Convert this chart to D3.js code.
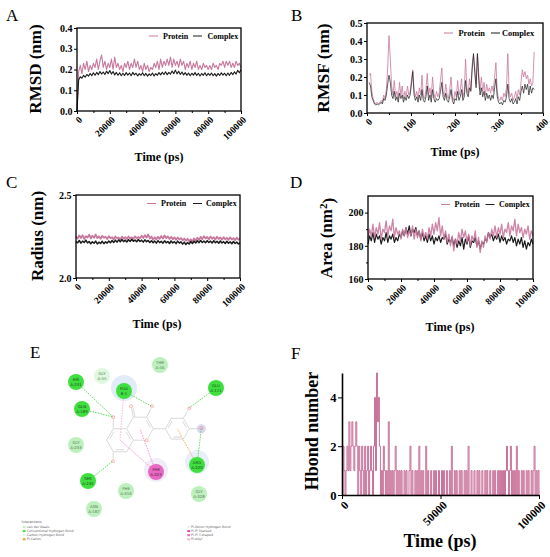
<!DOCTYPE html>
<html lang="en">
<head>
<meta charset="UTF-8">
<title>MD simulation analysis</title>
<script src="https://cdn.jsdelivr.net/npm/d3@7"></script>
<style>
  body { margin: 0; background: #fff; }
  svg { font-family: "Liberation Serif", "Times New Roman", serif; }
</style>
</head>
<body>
<div id="chart"></div>
<script>
// ---- data ----
const simTime = d3.range(0, 100001, 1000);      // ps, A / C / D
const residues = d3.range(5, 381, 3);            // residue number, B
const hbTime = d3.range(0, 100001, 500);         // ps, F

const rmsdProtein = [0,
  0.19,0.22,0.18,0.23,0.20,0.24,0.19,0.22,0.20,0.23,
  0.21,0.25,0.20,0.24,0.27,0.21,0.24,0.20,0.23,0.21,
  0.25,0.20,0.26,0.21,0.23,0.20,0.22,0.19,0.23,0.21,
  0.24,0.20,0.23,0.21,0.25,0.21,0.24,0.20,0.22,0.19,
  0.23,0.20,0.22,0.19,0.21,0.20,0.23,0.21,0.24,0.20,
  0.25,0.21,0.24,0.22,0.25,0.22,0.26,0.21,0.25,0.22,
  0.24,0.21,0.25,0.22,0.24,0.20,0.23,0.21,0.24,0.20,
  0.23,0.21,0.24,0.20,0.22,0.20,0.23,0.21,0.22,0.20,
  0.22,0.20,0.23,0.21,0.22,0.20,0.23,0.22,0.24,0.21,
  0.24,0.22,0.24,0.21,0.23,0.21,0.24,0.22,0.23,0.21];
const rmsdComplex = [0,
  0.150,0.165,0.158,0.172,0.163,0.176,0.168,0.181,0.170,0.184,
  0.172,0.186,0.175,0.190,0.178,0.188,0.176,0.192,0.180,0.195,
  0.178,0.190,0.174,0.186,0.172,0.184,0.170,0.182,0.171,0.185,
  0.173,0.183,0.170,0.186,0.174,0.182,0.169,0.180,0.172,0.184,
  0.170,0.181,0.168,0.179,0.171,0.183,0.169,0.180,0.172,0.185,
  0.174,0.187,0.176,0.189,0.175,0.186,0.178,0.193,0.180,0.197,
  0.179,0.191,0.176,0.188,0.174,0.185,0.172,0.183,0.170,0.182,
  0.173,0.185,0.171,0.182,0.169,0.181,0.172,0.184,0.170,0.181,
  0.172,0.183,0.170,0.180,0.168,0.181,0.171,0.184,0.173,0.182,
  0.170,0.183,0.172,0.186,0.175,0.189,0.178,0.196,0.184,0.200];

const rmsfProtein = [
  0.21,0.22,0.12,0.08,0.06,0.05,0.06,0.05,0.06,0.07,
  0.06,0.10,0.08,0.13,0.25,0.43,0.30,0.15,0.10,0.18,
  0.09,0.12,0.08,0.17,0.10,0.15,0.08,0.12,0.09,0.15,
  0.10,0.12,0.18,0.24,0.13,0.09,0.12,0.08,0.14,0.10,
  0.21,0.09,0.08,0.13,0.22,0.10,0.14,0.09,0.20,0.11,
  0.08,0.12,0.09,0.11,0.18,0.25,0.12,0.09,0.16,0.10,
  0.08,0.13,0.20,0.09,0.07,0.12,0.09,0.18,0.10,0.13,
  0.19,0.09,0.12,0.30,0.14,0.11,0.19,0.13,0.27,0.32,
  0.25,0.16,0.33,0.22,0.13,0.20,0.12,0.17,0.10,0.16,
  0.12,0.14,0.11,0.15,0.12,0.20,0.28,0.12,0.08,0.07,
  0.09,0.07,0.11,0.09,0.14,0.33,0.12,0.09,0.11,0.07,
  0.09,0.12,0.08,0.13,0.10,0.17,0.24,0.20,0.23,0.19,
  0.21,0.16,0.19,0.15,0.17,0.34];
const rmsfComplex = [
  0.17,0.15,0.09,0.07,0.05,0.045,0.05,0.045,0.05,0.06,
  0.05,0.08,0.07,0.10,0.16,0.21,0.17,0.10,0.08,0.12,
  0.07,0.09,0.06,0.11,0.08,0.10,0.06,0.09,0.07,0.10,
  0.08,0.10,0.16,0.23,0.10,0.07,0.09,0.06,0.10,0.07,
  0.13,0.07,0.06,0.09,0.15,0.07,0.10,0.06,0.13,0.08,
  0.06,0.08,0.07,0.08,0.12,0.17,0.09,0.07,0.11,0.07,
  0.06,0.09,0.13,0.07,0.05,0.08,0.07,0.12,0.07,0.09,
  0.13,0.07,0.09,0.18,0.11,0.09,0.14,0.12,0.24,0.33,
  0.22,0.14,0.33,0.18,0.10,0.14,0.09,0.12,0.07,0.11,
  0.08,0.10,0.07,0.10,0.08,0.14,0.19,0.09,0.06,0.05,
  0.06,0.045,0.07,0.06,0.09,0.16,0.08,0.06,0.08,0.05,
  0.06,0.08,0.05,0.09,0.07,0.12,0.15,0.11,0.16,0.13,
  0.16,0.10,0.15,0.11,0.14,0.13];

const gyrProtein = [
  2.250,2.238,2.256,2.241,2.258,2.236,2.252,2.244,2.260,2.238,
  2.255,2.242,2.262,2.240,2.251,2.236,2.254,2.243,2.249,2.235,
  2.252,2.240,2.246,2.233,2.250,2.238,2.244,2.232,2.249,2.237,
  2.246,2.235,2.250,2.238,2.245,2.236,2.251,2.239,2.247,2.240,
  2.255,2.241,2.258,2.243,2.262,2.238,2.250,2.230,2.245,2.233,
  2.248,2.236,2.253,2.238,2.256,2.240,2.250,2.235,2.248,2.233,
  2.245,2.230,2.244,2.232,2.240,2.227,2.238,2.225,2.236,2.222,
  2.233,2.220,2.238,2.226,2.242,2.230,2.248,2.234,2.252,2.238,
  2.247,2.233,2.250,2.236,2.246,2.232,2.249,2.235,2.244,2.231,
  2.246,2.233,2.242,2.230,2.245,2.232,2.240,2.228,2.243,2.231,2.236];
const gyrComplex = [
  2.220,2.212,2.226,2.210,2.222,2.214,2.228,2.211,2.220,2.206,
  2.218,2.209,2.222,2.205,2.216,2.208,2.221,2.207,2.218,2.210,
  2.223,2.212,2.226,2.214,2.228,2.216,2.230,2.218,2.232,2.219,
  2.228,2.217,2.231,2.220,2.233,2.221,2.229,2.218,2.232,2.220,
  2.228,2.216,2.230,2.219,2.226,2.214,2.224,2.212,2.222,2.210,
  2.225,2.213,2.221,2.210,2.224,2.212,2.220,2.208,2.223,2.211,
  2.219,2.207,2.222,2.210,2.218,2.204,2.216,2.202,2.214,2.205,
  2.220,2.208,2.222,2.211,2.224,2.213,2.226,2.214,2.223,2.212,
  2.225,2.214,2.222,2.211,2.224,2.212,2.221,2.209,2.223,2.211,
  2.219,2.208,2.221,2.209,2.218,2.206,2.220,2.208,2.217,2.205,2.212];

const sasaProtein = [
  184,190,186,193,185,191,187,194,184,190,
  188,195,186,192,189,196,185,191,187,189,
  184,190,186,191,185,189,186,192,184,190,
  185,189,183,190,185,188,184,191,186,193,
  187,194,189,197,186,192,184,189,182,187,
  180,186,177,184,181,188,183,190,185,189,
  182,187,180,186,183,189,179,185,176,183,
  179,186,182,188,184,190,186,192,185,191,
  187,193,185,190,188,194,186,192,189,196,
  186,193,188,191,185,190,187,192,184,189,186];
const sasaComplex = [
  181,186,183,188,182,187,184,186,181,185,
  183,188,182,186,184,187,182,185,183,187,
  185,189,186,191,187,192,186,190,188,191,
  186,189,184,188,183,186,182,187,183,186,
  181,185,183,186,182,185,184,187,181,184,
  182,185,180,184,179,183,180,185,178,184,
  181,186,179,183,182,185,180,183,178,182,
  181,184,183,188,185,187,183,186,184,187,
  182,186,183,185,181,184,183,186,182,185,
  180,184,181,185,179,183,178,182,180,184,181];

const hbondCount = [
  0,2,1,0,1,2,1,
  3,1,2,3,2,1,2,3,2,
  0,2,1,
  0,2,1,0,2,0,1,2,0,1,2,1,0,
  2,4,1,5,3,4,2,
  0,1,0,2,1,0,1,0,3,
  0,1,0,1,0,1,2,0,1,0,1,0,
  1,0,0,1,0,1,0,0,1,2,
  0,1,0,0,1,0,1,0,2,0,
  1,0,1,0,0,2,0,1,0,0,
  1,0,0,1,0,1,0,0,1,0,
  0,1,0,1,0,0,1,0,0,1,
  0,2,0,0,1,0,1,0,0,1,
  0,1,0,0,1,0,1,0,2,0,
  0,1,0,0,1,0,0,1,0,1,
  0,0,1,0,0,1,0,1,0,0,
  1,0,0,1,0,1,0,0,1,0,
  1,
  0,1,0,1,0,1,2,1,0,1,2,0,1,0,1,
  0,2,0,1,0,0,1,0,1,0,0,1,0,1,0,0,1,0,1,2,0,1,0,1,0];

const xTicksTime = [0, 20000, 40000, 60000, 80000, 100000];
const seriesNames = ['Protein', 'Complex'];

// panel E: ligand interaction diagram (diagram units)
const contacts = [
  {res: 'THR', chain: 'A:56',  x: 140, y: 5,   kind: 'vdw'},
  {res: 'GLY', chain: 'A:55',  x: 82,  y: 16,  kind: 'ch'},
  {res: 'HIS', chain: 'A:231', x: 56,  y: 22,  kind: 'hb'},
  {res: 'FDA', chain: 'B:1',   x: 104, y: 31,  kind: 'hb'},
  {res: 'GLU', chain: 'A:111', x: 196, y: 28,  kind: 'hb'},
  {res: 'GLN', chain: 'A:189', x: 62,  y: 49,  kind: 'hb'},
  {res: 'GLY', chain: 'A:233', x: 56,  y: 85,  kind: 'vdw'},
  {res: 'SER', chain: 'A:235', x: 68,  y: 121, kind: 'hb'},
  {res: 'PHE', chain: 'A:223', x: 136, y: 112, kind: 'pit'},
  {res: 'ARG', chain: 'A:220', x: 177, y: 105, kind: 'hb'},
  {res: 'PHE', chain: 'A:316', x: 106, y: 131, kind: 'vdw'},
  {res: 'GLY', chain: 'A:328', x: 179, y: 134, kind: 'vdw'},
  {res: 'ASN', chain: 'A:187', x: 74,  y: 149, kind: 'vdw'}
];
const atoms = [
  {id: 'C2', x: 133.3, y: 68.7}, {id: 'C3', x: 126.7, y: 57.2}, {id: 'C4', x: 113.3, y: 57.2},
  {id: 'C4a', x: 106.7, y: 68.7}, {id: 'C8a', x: 113.3, y: 80.2}, {id: 'O1', x: 126.7, y: 80.2, o: true},
  {id: 'C5', x: 93.3, y: 68.7}, {id: 'C6', x: 86.7, y: 80.2}, {id: 'C7', x: 93.3, y: 91.7}, {id: 'C8', x: 106.7, y: 91.7},
  {id: 'C1b', x: 145.3, y: 68.7}, {id: 'C2b', x: 151.3, y: 58.3}, {id: 'C3b', x: 163.3, y: 58.3},
  {id: 'C4b', x: 169.3, y: 68.7}, {id: 'C5b', x: 163.3, y: 79.1}, {id: 'C6b', x: 151.3, y: 79.1},
  {id: 'O4', x: 111, y: 46, o: true}, {id: 'O3', x: 132, y: 46.5, o: true}, {id: 'O5', x: 93.3, y: 57, o: true},
  {id: 'O7', x: 93, y: 101, o: true}, {id: 'O3b', x: 169.3, y: 47.9, o: true}, {id: 'O4b', x: 181.3, y: 68.7, o: true}
];
const rings = {A: {x: 100, y: 80.2}, C: {x: 120, y: 68.7}, B: {x: 157.3, y: 68.7}};
const bonds = [
  ['C2','C3',2,'C'], ['C3','C4',1], ['C4','C4a',1], ['C8a','O1',1], ['O1','C2',1],
  ['C4a','C5',1], ['C5','C6',2,'A'], ['C6','C7',1], ['C7','C8',2,'A'], ['C8','C8a',1], ['C8a','C4a',2,'A'],
  ['C4','O4',2], ['C3','O3',1], ['C5','O5',1], ['C7','O7',1], ['C2','C1b',1],
  ['C1b','C2b',2,'B'], ['C2b','C3b',1], ['C3b','C4b',2,'B'], ['C4b','C5b',1], ['C5b','C6b',2,'B'], ['C6b','C1b',1],
  ['C3b','O3b',1], ['C4b','O4b',1]
];
const interactions = [
  ['HIS A:231', 'O5', 'hb'], ['GLN A:189', 'O5', 'hb'], ['FDA B:1', 'O3', 'hb'],
  ['GLU A:111', 'O3b', 'hb'], ['SER A:235', 'O7', 'hb'], ['ARG A:220', 'O4b', 'hb'],
  ['ARG A:220', 'ring:B', 'pication'], ['FDA B:1', 'ring:A', 'pialkyl'],
  ['PHE A:223', 'ring:A', 'pit'], ['PHE A:223', 'ring:C', 'pit']
];
const legendLeft = [['van der Waals', 'vdw'], ['Conventional Hydrogen Bond', 'hb'], ['Carbon Hydrogen Bond', 'ch'], ['Pi-Cation', 'pication']];
const legendRight = [['Pi-Donor Hydrogen Bond', 'pidonor'], ['Pi-Pi Stacked', 'pistack'], ['Pi-Pi T-shaped', 'pit'], ['Pi-Alkyl', 'pialkyl']];

// ---- drawing ----
const pink = '#c8789e';
const dark = '#1b1b1b';
const svg = d3.select('#chart').append('svg').attr('width', 550).attr('height', 557);

function styleAxis(sel, size) {
  sel.attr('font-family', '"Liberation Serif", serif').attr('font-size', size).attr('font-weight', 'bold');
  sel.selectAll('line').attr('stroke', '#000').attr('stroke-width', 1);
  sel.selectAll('text').attr('fill', '#000');
}

function seriesPanel(p) {
  const x = d3.scaleLinear().domain(p.xDomain).range([p.left, p.right]);
  const y = d3.scaleLinear().domain(p.yDomain).range([p.bottom, p.top]);
  const g = svg.append('g');

  p.series.forEach(s => {
    const line = d3.line().x((d, i) => x(p.xs[i])).y(d => y(d));
    if (s.step) line.curve(d3.curveStepAfter);
    g.append('path')
      .datum(s.values)
      .attr('fill', 'none')
      .attr('stroke', s.color)
      .attr('stroke-width', s.width || 0.8)
      .attr('stroke-opacity', s.opacity || 1)
      .attr('stroke-linejoin', 'round')
      .attr('d', line);
  });

  // x axis
  const xa = g.append('g').attr('transform', `translate(0,${p.bottom})`)
    .call(d3.axisBottom(x).tickValues(p.xTicks).tickSize(p.tick || 3).tickSizeOuter(0).tickFormat(d3.format('d')));
  if (p.xMinor) {
    g.append('g').attr('transform', `translate(0,${p.bottom})`)
      .call(d3.axisBottom(x).tickValues(p.xMinor).tickSize(2).tickFormat(''))
      .call(a => a.select('.domain').remove())
      .selectAll('line').attr('stroke', '#000');
  }
  styleAxis(xa, p.xFont);
  xa.selectAll('text')
    .attr('x', 0).attr('y', 0).attr('dy', '0.35em')
    .attr('text-anchor', 'end')
    .attr('transform', `translate(${p.xLabelDx},${p.xLabelDy}) rotate(-45)`);

  // y axis
  const ya = g.append('g').attr('transform', `translate(${p.left},0)`)
    .call(d3.axisLeft(y).tickValues(p.yTicks).tickSize(p.tick || 3).tickSizeOuter(0).tickFormat(d3.format(p.yFormat)));
  if (p.yMinor) {
    g.append('g').attr('transform', `translate(${p.left},0)`)
      .call(d3.axisLeft(y).tickValues(p.yMinor).tickSize(2).tickFormat(''))
      .call(a => a.select('.domain').remove())
      .selectAll('line').attr('stroke', '#000');
  }
  styleAxis(ya, p.yFont);
  ya.selectAll('text').attr('x', -(p.tick || 3) - 1.5);

  if (p.frame) {
    xa.select('.domain').remove();
    ya.select('.domain').remove();
    g.append('rect')
      .attr('x', p.left).attr('y', p.top)
      .attr('width', p.right - p.left).attr('height', p.bottom - p.top)
      .attr('fill', 'none').attr('stroke', '#000').attr('stroke-width', 1.3);
  } else {
    g.selectAll('.domain').attr('stroke', '#000').attr('stroke-width', 1.6);
  }

  // titles
  g.append('text')
    .attr('x', p.xTitle[0]).attr('y', p.xTitle[1])
    .attr('text-anchor', 'middle').attr('font-weight', 'bold').attr('font-size', p.xTitleSize)
    .text('Time (ps)');
  const yt = g.append('text')
    .attr('transform', `translate(${p.yTitle[0]},${p.yTitle[1]}) rotate(-90)`)
    .attr('text-anchor', 'middle').attr('font-weight', 'bold').attr('font-size', p.yTitleSize)
    .text(p.yLabel);
  if (p.ySup) {
    yt.append('tspan').attr('dy', '-0.4em').attr('font-size', p.yTitleSize * 0.65).text(p.ySup);
    yt.append('tspan').attr('dy', '0.4em').text(')');
  }

  // legend
  if (p.legend) {
    const L = p.legend;
    [[pink, seriesNames[0], L.pos[0], L.pos[1]], [dark, seriesNames[1], L.pos[2], L.pos[3]]].forEach(([c, name, lx, tx]) => {
      g.append('line').attr('x1', lx).attr('x2', lx + 9).attr('y1', L.y).attr('y2', L.y)
        .attr('stroke', c).attr('stroke-width', 1);
      g.append('text').attr('x', tx).attr('y', L.y).attr('dy', '0.33em')
        .attr('font-size', L.size).attr('font-weight', 'bold').text(name);
    });
  }

  // panel letter
  svg.append('text').attr('x', p.letter[1]).attr('y', p.letter[2])
    .attr('font-size', 17).text(p.letter[0]);
}

// A: RMSD
seriesPanel({
  left: 77, right: 241, top: 28, bottom: 111,
  xDomain: [0, 100000], yDomain: [0, 0.4], xs: simTime,
  xTicks: xTicksTime, xMinor: [10000, 30000, 50000, 70000, 90000],
  yTicks: [0, 0.1, 0.2, 0.3, 0.4], yFormat: '.1f',
  series: [{values: rmsdProtein, color: pink, width: 1.1}, {values: rmsdComplex, color: dark, width: 1.1}],
  xFont: 9.5, yFont: 10, xLabelDx: 3, xLabelDy: 7,
  xTitle: [159, 161], xTitleSize: 12, yTitle: [41, 69], yTitleSize: 17, yLabel: 'RMSD (nm)',
  legend: {y: 36, pos: [149, 163, 193, 207.5], size: 8},
  frame: true, letter: ['A', 6, 21]
});

// B: RMSF
seriesPanel({
  left: 367, right: 543, top: 23, bottom: 113,
  xDomain: [0, 400], yDomain: [0, 0.5], xs: residues,
  xTicks: [0, 100, 200, 300, 400], xMinor: [50, 150, 250, 350],
  yTicks: [0, 0.1, 0.2, 0.3, 0.4, 0.5], yFormat: '.1f',
  series: [{values: rmsfProtein, color: pink}, {values: rmsfComplex, color: dark, width: 0.7}],
  xFont: 9.5, yFont: 10, xLabelDx: 3, xLabelDy: 7,
  xTitle: [455, 156], xTitleSize: 12, yTitle: [329, 68], yTitleSize: 17.5, yLabel: 'RMSF (nm)',
  legend: {y: 33, pos: [444, 458.5, 491, 502], size: 8.4},
  frame: true, letter: ['B', 291, 21]
});

// C: radius of gyration
seriesPanel({
  left: 76, right: 240, top: 195, bottom: 278,
  xDomain: [0, 100000], yDomain: [2.0, 2.5], xs: simTime,
  xTicks: xTicksTime, xMinor: [10000, 30000, 50000, 70000, 90000],
  yTicks: [2.0, 2.5], yFormat: '.1f',
  series: [{values: gyrProtein, color: pink, width: 1.8}, {values: gyrComplex, color: dark, width: 1.5}],
  xFont: 9.5, yFont: 10, xLabelDx: 3, xLabelDy: 7,
  xTitle: [157, 328], xTitleSize: 12, yTitle: [42.5, 236], yTitleSize: 17, yLabel: 'Radius (nm)',
  legend: {y: 203.5, pos: [147, 161, 193, 206], size: 8},
  frame: true, letter: ['C', 6, 188]
});

// D: SASA
seriesPanel({
  left: 368, right: 533, top: 196, bottom: 279,
  xDomain: [0, 100000], yDomain: [160, 210], xs: simTime,
  xTicks: xTicksTime, xMinor: [10000, 30000, 50000, 70000, 90000],
  yTicks: [160, 180, 200], yMinor: [170, 190], yFormat: 'd',
  series: [{values: sasaComplex, color: dark, width: 1.2}, {values: sasaProtein, color: pink, width: 1.3, opacity: 0.9}],
  xFont: 9.5, yFont: 10, xLabelDx: 3, xLabelDy: 7,
  xTitle: [450, 331], xTitleSize: 12, yTitle: [331.5, 238], yTitleSize: 17, yLabel: 'Area (nm', ySup: '2',
  legend: {y: 204.5, pos: [441, 454.5, 485.5, 499], size: 8},
  frame: true, letter: ['D', 290, 188]
});

// F: hydrogen bonds
seriesPanel({
  left: 342, right: 539, top: 373, bottom: 495,
  xDomain: [0, 100000], yDomain: [0, 5], xs: hbTime,
  xTicks: [0, 50000, 100000],
  yTicks: [0, 2, 4], yFormat: 'd', tick: 4,
  series: [{values: hbondCount, color: '#c05a8a', width: 1, opacity: 0.85, step: true}],
  xFont: 11.5, yFont: 12.5, xLabelDx: 4, xLabelDy: 8,
  xTitle: [440, 547], xTitleSize: 18, yTitle: [318, 431], yTitleSize: 18, yLabel: 'Hbond number',
  frame: false, letter: ['F', 291, 359]
});

// E: 2D interaction diagram
(function () {
  const ex = d3.scaleLinear().domain([0, 230]).range([20, 250]);
  const ey = d3.scaleLinear().domain([0, 190]).range([360, 550]);
  const fillOf = {hb: '#3fdf3f', vdw: '#bdf0bd', ch: '#dff8df', pit: '#e868c2',
    pication: '#f09a30', pidonor: '#e8f6e8', pistack: '#e040b0', pialkyl: '#f4b4dc'};
  const lineOf = {hb: '#34d834', pication: '#f0a040', pialkyl: '#f5a6d6', pit: '#ee7cc8'};
  const g = svg.append('g').attr('font-family', '"DejaVu Sans", sans-serif');
  const atomById = new Map(atoms.map(a => [a.id, a]));
  const resByKey = new Map(contacts.map(c => [c.res + ' ' + c.chain, c]));

  // halos
  [['FDA B:1', 13, '#e2ebf8', -3], ['PHE A:223', 12, '#f1ecf7', -2], ['ARG A:220', 12, '#e9eff8', -3]].forEach(([k, r, c, dy]) => {
    const c0 = resByKey.get(k);
    g.append('circle').attr('cx', ex(c0.x)).attr('cy', ey(c0.y + dy)).attr('r', r).attr('fill', c);
  });
  const o4b = atomById.get('O4b');
  g.append('circle').attr('cx', ex(o4b.x)).attr('cy', ey(o4b.y)).attr('r', 4.5).attr('fill', '#d9d5f3');

  // interaction lines
  interactions.forEach(([rk, target, kind]) => {
    const r = resByKey.get(rk);
    const t = target.startsWith('ring:') ? rings[target.slice(5)] : atomById.get(target);
    g.append('line')
      .attr('x1', ex(r.x)).attr('y1', ey(r.y)).attr('x2', ex(t.x)).attr('y2', ey(t.y))
      .attr('stroke', lineOf[kind]).attr('stroke-width', 0.8).attr('stroke-dasharray', '1.6,1.1');
  });

  // ligand skeleton
  bonds.forEach(([a, b, order, ring]) => {
    const p = atomById.get(a), q = atomById.get(b);
    let x1 = ex(p.x), y1 = ey(p.y), x2 = ex(q.x), y2 = ey(q.y);
    const len = Math.hypot(x2 - x1, y2 - y1);
    const ux = (x2 - x1) / len, uy = (y2 - y1) / len;
    if (p.o) { x1 += ux * 2.3; y1 += uy * 2.3; }
    if (q.o) { x2 -= ux * 2.3; y2 -= uy * 2.3; }
    g.append('line').attr('x1', x1).attr('y1', y1).attr('x2', x2).attr('y2', y2)
      .attr('stroke', '#cfcfcf').attr('stroke-width', 0.8);
    if (order === 2) {
      let nx = -uy, ny = ux, off = 1.7, trim = 0.18;
      if (ring) {
        const c = rings[ring];
        const mx = (x1 + x2) / 2, my = (y1 + y2) / 2;
        if (nx * (ex(c.x) - mx) + ny * (ey(c.y) - my) < 0) { nx = -nx; ny = -ny; }
        off = 2;
      } else { trim = 0; }
      const L = Math.hypot(x2 - x1, y2 - y1);
      g.append('line')
        .attr('x1', x1 + nx * off + ux * L * trim).attr('y1', y1 + ny * off + uy * L * trim)
        .attr('x2', x2 + nx * off - ux * L * trim).attr('y2', y2 + ny * off - uy * L * trim)
        .attr('stroke', '#cfcfcf').attr('stroke-width', 0.8);
    }
  });
  atoms.filter(a => a.o).forEach(a => {
    g.append('text').attr('x', ex(a.x)).attr('y', ey(a.y)).attr('dy', '0.36em')
      .attr('text-anchor', 'middle').attr('font-size', 4.6).attr('fill', '#ef6a6a').text('O');
  });

  // residue discs
  const res = g.selectAll('g.res').data(contacts).join('g')
    .attr('transform', d => `translate(${ex(d.x)},${ey(d.y)})`);
  res.append('circle').attr('r', 8).attr('fill', d => fillOf[d.kind]);
  const ink = d => d.kind === 'hb' ? '#1f4d1f' : d.kind === 'pit' ? '#5a1f48' : '#5c7a5c';
  res.append('text').attr('y', -0.6).attr('text-anchor', 'middle').attr('font-size', 3.9)
    .attr('fill', ink).text(d => d.res);
  res.append('text').attr('y', 3.6).attr('text-anchor', 'middle').attr('font-size', 3.9)
    .attr('fill', ink).text(d => d.chain);

  // legend
  g.append('text').attr('x', 21.5).attr('y', 522.5).attr('font-size', 3.4).attr('fill', '#555').text('Interactions');
  [[legendLeft, 22.7, 26.8], [legendRight, 187.3, 191]].forEach(([items, sx, tx]) => {
    items.forEach(([label, kind], i) => {
      const yy = 527 + i * 4.1;
      g.append('rect').attr('x', sx).attr('y', yy - 1).attr('width', 2.8).attr('height', 2)
        .attr('fill', fillOf[kind]);
      g.append('text').attr('x', tx).attr('y', yy).attr('dy', '0.35em')
        .attr('font-size', 3.2).attr('fill', '#666').text(label);
    });
  });

  svg.append('text').attr('x', 30).attr('y', 358).attr('font-size', 17).text('E');
})();
</script>
</body>
</html>
